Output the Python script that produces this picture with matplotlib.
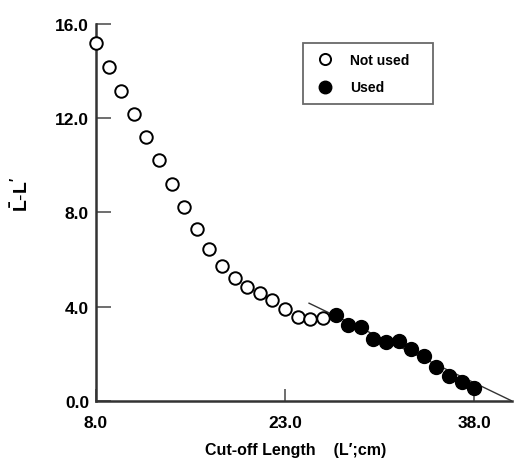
import matplotlib
matplotlib.use("Agg")
import matplotlib.pyplot as plt
from matplotlib.lines import Line2D

plt.rcParams['font.family'] = ['Liberation Sans', 'DejaVu Sans']
plt.rcParams['mathtext.fontset'] = 'custom'
plt.rcParams['mathtext.rm'] = 'Liberation Sans'
plt.rcParams['mathtext.bf'] = 'Liberation Sans:bold'

# Data
x_not_used = [8, 9, 10, 11, 12, 13, 14, 15, 16, 17, 18, 19, 20, 21, 22, 23, 24, 25, 26]
y_not_used = [15.18, 14.19, 13.16, 12.19, 11.19, 10.24, 9.23, 8.25, 7.28, 6.43,
              5.73, 5.21, 4.85, 4.57, 4.27, 3.92, 3.58, 3.50, 3.51]
x_used = [27, 28, 29, 30, 31, 32, 33, 34, 35, 36, 37, 38]
y_used = [3.64, 3.23, 3.14, 2.62, 2.51, 2.54, 2.20, 1.89, 1.45, 1.07, 0.79, 0.54]
fit_x = [24.9, 41.0]
fit_y = [4.15, 0.0]
x_ticks = [8.0, 23.0, 38.0]
y_ticks = [0.0, 4.0, 8.0, 12.0, 16.0]

fig = plt.figure(figsize=(5.25, 4.6), dpi=100)
ax = fig.add_axes([0.1829, 0.1261, 0.7923, 0.8196])

ax.plot(fit_x, fit_y, color='#333333', lw=1.0, zorder=2)
ax.plot(x_not_used, y_not_used, 'o', ms=9, mfc='white', mec='black', mew=1.4,
        zorder=3, label='Not used', clip_on=False)
ax.plot(x_used, y_used, 'o', ms=10, mfc='black', mec='black', mew=1.0,
        zorder=3, label='Used', clip_on=False)

ax.set_xlim(8, 41)
ax.set_ylim(0, 16)
ax.set_xticks(x_ticks)
ax.set_yticks(y_ticks)
ax.set_xticklabels([f'{v:.1f}' for v in x_ticks])
ax.set_yticklabels([f'{v:.1f}' for v in y_ticks])

for s in ['top', 'right']:
    ax.spines[s].set_visible(False)
for s in ['left', 'bottom']:
    ax.spines[s].set_color('#333333')
    ax.spines[s].set_linewidth(1.8)

ax.tick_params(axis='x', direction='in', length=9, width=1.2, color='#555555',
               pad=10, labelsize=12.5)
ax.tick_params(axis='y', direction='in', length=11, width=1.2, color='#555555',
               pad=5, labelsize=12.5)
for lab in ax.get_xticklabels() + ax.get_yticklabels():
    lab.set_fontweight('bold')

ax.set_xlabel('Cut-off Length    (L\u2032;cm)', fontsize=11.5, fontweight='bold')
ax.xaxis.set_label_coords(0.481, -0.108)
ax.set_ylabel(r'$\mathbf{\bar{L}}$' + r'$\mathbf{\text{-}L^{\prime}}$',
              fontsize=14, fontweight='bold')
ax.yaxis.set_label_coords(-0.155, 0.55)

handles = [Line2D([], [], ls='none', marker='o', ms=8, mfc='white', mec='black', mew=1.4),
           Line2D([], [], ls='none', marker='o', ms=9, mfc='black', mec='black')]
leg = ax.legend(handles, ['Not used', 'Used'], loc='upper left',
                bbox_to_anchor=(0.4976, 0.796, 0.3124, 0.154), mode='expand',
                borderaxespad=0, frameon=True, fancybox=False,
                prop={'weight': 'bold', 'size': 10}, handletextpad=1.0,
                labelspacing=1.0, borderpad=0.7, handlelength=1.7)
leg.get_frame().set_edgecolor('#444444')
leg.get_frame().set_linewidth(1.3)

fig.savefig('out.png', dpi=100)
